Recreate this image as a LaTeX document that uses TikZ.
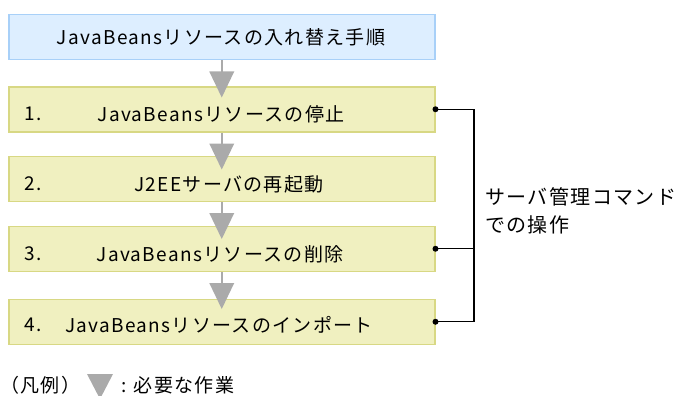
\documentclass[tikz,border=0pt]{standalone}
\usepackage{fontspec}
\setmainfont[LetterSpace=7]{Noto Sans CJK JP}
\usetikzlibrary{calc}
\definecolor{topfill}{HTML}{DDEEFF}
\definecolor{topline}{HTML}{A8D0F8}
\definecolor{stepfill}{HTML}{F0F0C0}
\definecolor{stepline}{HTML}{D8D884}
\definecolor{arrgray}{HTML}{AAAAAA}
\tikzset{
  x=1pt, y=-1pt,
  txt/.style={font=\fontsize{19}{22}\selectfont, inner sep=0pt},
  box/.style={anchor=north west, minimum width=426pt, minimum height=45pt, inner sep=0pt, line width=1.5pt},
  topbox/.style={box, fill=topfill, draw=topline},
  stepbox/.style={box, fill=stepfill, draw=stepline},
  conn/.style={draw=arrgray, line width=2pt},
  tri/.style={fill=arrgray},
  bline/.style={line width=1.2pt, black},
  dot/.style={circle, fill=black, inner sep=0pt, minimum size=6pt},
}
\begin{document}
\begin{tikzpicture}
\useasboundingbox (0,0) rectangle (680,396);
\node[topbox] (top) at (8,14) {};
\node[stepbox] (b1) at (8,86) {};
\node[stepbox] (b2) at (8,155.5) {};
\node[stepbox] (b3) at (8,225.5) {};
\node[stepbox] (b4) at (8,298.5) {};

\node[txt] (t0) at (221,37) {JavaBeansリソースの入れ替え手順};
\node[txt, anchor=west] (n1) at (24,114) {1.};
\node[txt] (t1) at (221,114) {JavaBeansリソースの停止};
\node[txt, anchor=west] (n2) at (24,184) {2.};
\node[txt] (t2) at (229,184) {J2EEサーバの再起動};
\node[txt, anchor=west] (n3) at (24,254) {3.};
\node[txt] (t3) at (220,254) {JavaBeansリソースの削除};
\node[txt, anchor=west] (n4) at (24,325) {4.};
\node[txt] (t4) at (219,325) {JavaBeansリソースのインポート};

% arrows
\foreach \a/\b in {top/b1, b1/b2, b2/b3, b3/b4}{
  \draw[conn] (\a.south) -- ($(\a.south)+(0,12)$);
  \fill[tri] ($(\a.south)+(-12.5,11)$) -- ($(\a.south)+(12.5,11)$) -- ($(\a.south)+(0,37)$) -- cycle;
}

% bracket
\coordinate (brx) at (474,0);
\draw[bline] (b1.east) -- (b1.east -| brx) -- (b4.east -| brx) -- (b4.east);
\draw[bline] (b3.east) -- (b3.east -| brx);
\node[dot] (d1) at (b1.east) {};
\node[dot] (d3) at (b3.east) {};
\node[dot] (d4) at (b4.east) {};
\node[txt, anchor=west, align=left, font=\fontsize{20}{28}\selectfont] (lab) at (485,211) {サーバ管理コマンド\\での操作};

% legend
\node[txt, anchor=west] (leg) at (0,385) {（凡例）};
\fill[tri] (87,374) -- (113,374) -- (100,399) -- cycle;
\node[txt, anchor=west] (legt) at (121,385) {: 必要な作業};
\end{tikzpicture}
\end{document}
